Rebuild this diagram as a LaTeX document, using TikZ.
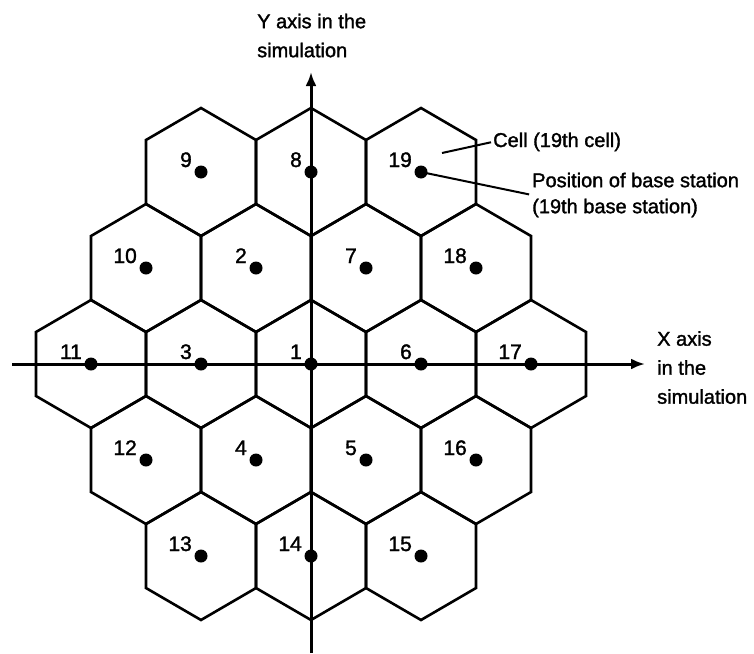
\documentclass[tikz,border=0pt]{standalone}
\usepackage{fontspec}
\setmainfont{Liberation Sans}[FakeBold=1.5]
\usetikzlibrary{arrows.meta,positioning}
\tikzset{
  cell/.style={line width=2.6pt,line join=miter},
  axis/.style={line width=3pt,-{Latex[length=14pt,width=11pt]}},
  station/.style={circle,fill=black,inner sep=0pt,minimum size=13pt},
  num/.style={font=\fontsize{21}{21}\selectfont,inner sep=0pt,anchor=base east},
  callout/.style={line width=2pt},
  txt/.style={font=\fontsize{20}{29}\selectfont,inner sep=0pt,align=left},
}
% cell number / centre x / centre y (picture pixels, y downwards)
\newcommand\cellcenters{1/311/364,2/256/268,3/201/364,4/256/460,5/366/460,6/421/364,
  7/366/268,8/311/172,9/201/172,10/146/268,11/91/364,12/146/460,13/201/556,
  14/311/556,15/421/556,16/476/460,17/531/364,18/476/268,19/421/172}

\begin{document}
\begin{tikzpicture}[x=1pt,y=-1pt]
\useasboundingbox (0,0) rectangle (754,653);
% hexagonal cells
\foreach \i/\x/\y in \cellcenters
  \draw[cell] (\x,\y) ++(0,-64) -- ++(55,32) -- ++(0,64) -- ++(-55,32)
    -- ++(-55,-32) -- ++(0,-64) -- cycle;
% axes
\coordinate (xs) at (12,364);
\coordinate (xe) at (645,364);
\coordinate (ys) at (311,653);
\coordinate (ye) at (311,72);
\draw[axis] (xs) -- (xe);
\draw[axis] (ys) -- (ye);
% base stations and numbers
\foreach \i/\x/\y in \cellcenters {
  \node[station] (b\i) at (\x,\y) {};
  \node[num] (l\i) at (\x-9,\y-5) {\i};
}
% texts
\node[txt,anchor=north west] (ylab) at (257,13.5) {Y axis in the\\simulation};
\node[txt,anchor=north west] (xlab) at (657,331) {X axis\\in the\\simulation};
\node[txt,anchor=base west] (celltxt) at (493,147) {Cell (19th cell)};
\node[txt,font=\fontsize{20}{26}\selectfont,anchor=north west] (bstxt) at (532,172.5)
  {Position of base station\\(19th base station)};
% callouts
\coordinate (cp) at (442,153);
\draw[callout,shorten >=2pt] (cp) -- (celltxt.west);
\draw[callout,shorten >=3pt] (b19.center) -- (bstxt.west);
\end{tikzpicture}
\end{document}
